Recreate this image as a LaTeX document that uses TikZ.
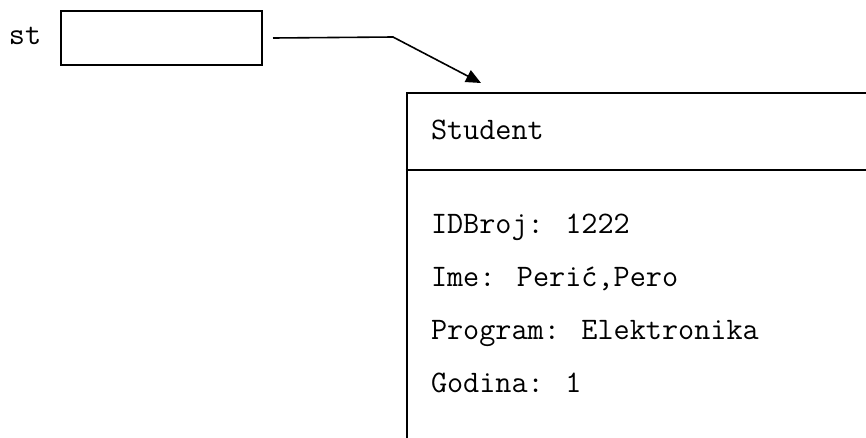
\documentclass[tikz,border=0pt]{standalone}
\usepackage{fontspec}
\usetikzlibrary{arrows.meta}
\begin{document}
\begin{tikzpicture}[x=1pt,y=-1pt,line width=2pt,
  lbl/.style={anchor=base west,inner sep=0pt,font=\ttfamily\fontsize{31.3}{34}\selectfont},
  boxshape/.style={draw,anchor=north west,inner sep=0pt,line width=2pt},
  ptrline/.style={line width=1.6pt,-{Triangle[length=15pt,width=13pt]}}]
\useasboundingbox (0,0) rectangle (866,437);
\clip (0,0) rectangle (866,437);
% pointer variable
\node[boxshape,minimum width=201pt,minimum height=54pt] (ptr) at (60,10) {};
\node[lbl] (st) at (8,44) {st};
% object box (extends past the edges)
\node[boxshape,minimum width=600pt,minimum height=400pt] (obj) at (405.5,92) {};
\coordinate (divL) at (405.5,170);
\coordinate (divR) at (1000,170);
\draw (divL) -- (divR);
% texts
\node[lbl] (cls) at (430,139) {Student};
\node[lbl] (f1) at (430,233) {IDBroj: 1222};
\node[lbl] (f2) at (430,286) {Ime: Perić,Pero};
\node[lbl] (f3) at (430,339) {Program: Elektronika};
\node[lbl] (f4) at (430,392) {Godina: 1};
% connector
\coordinate (start) at ([xshift=10pt]ptr.east);
\coordinate (bend) at (393,37);
\coordinate (tip) at (481,83);
\draw[ptrline] (start) -- (bend) -- (tip);
\end{tikzpicture}
\end{document}
